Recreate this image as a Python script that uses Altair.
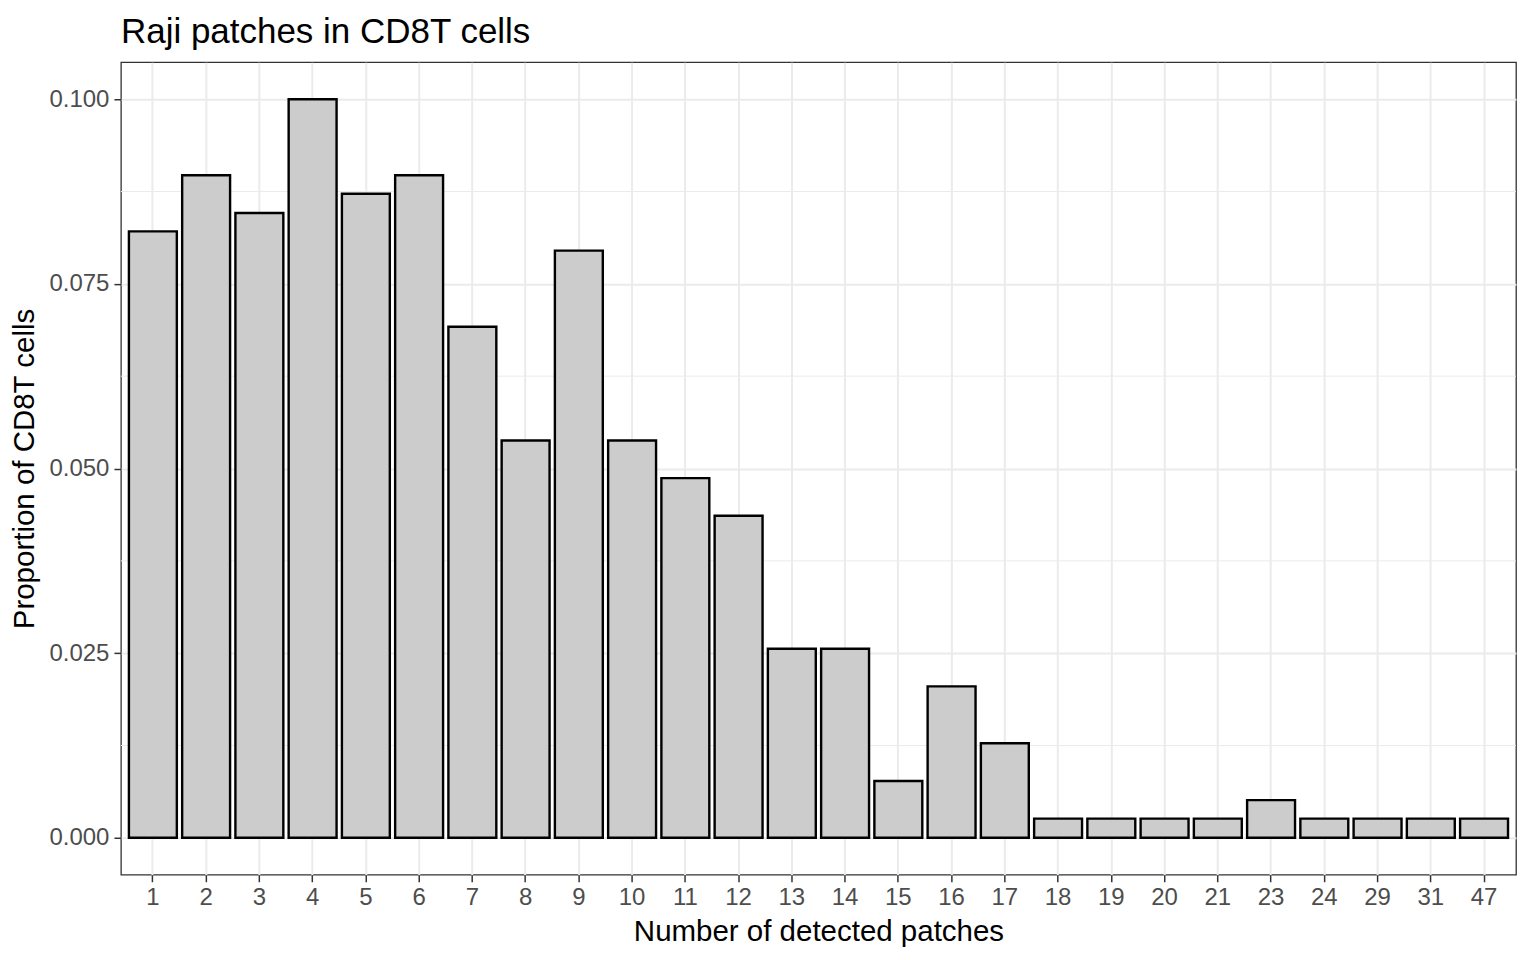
import altair as alt
import pandas as pd

categories = ["1", "2", "3", "4", "5", "6", "7", "8", "9", "10", "11", "12", "13",
              "14", "15", "16", "17", "18", "19", "20", "21", "23", "24", "29", "31", "47"]
proportions = [0.0821, 0.0897, 0.0846, 0.1000, 0.0872, 0.0897, 0.0692, 0.0538, 0.0795,
               0.0538, 0.0487, 0.0436, 0.0256, 0.0256, 0.0077, 0.0205, 0.0128, 0.0026,
               0.0026, 0.0026, 0.0026, 0.0051, 0.0026, 0.0026, 0.0026, 0.0026]
major_ticks = [0.0, 0.025, 0.05, 0.075, 0.1]
minor_grid = [0.0125, 0.0375, 0.0625, 0.0875]

df = pd.DataFrame({"patches": categories, "prop": proportions})
minor_df = pd.DataFrame({"v": minor_grid})

FONT = "Liberation Sans"

yscale = alt.Scale(domain=[-0.005, 0.105], nice=False, zero=False)

minor = alt.Chart(minor_df).mark_rule(color="#ebebeb", strokeWidth=1).encode(
    y=alt.Y("v:Q", scale=yscale)
)

bars = alt.Chart(df).mark_bar(fill="#cccccc", stroke="black", strokeWidth=2.4).encode(
    x=alt.X("patches:N", sort=categories,
            scale=alt.Scale(paddingInner=0.1, paddingOuter=0.15),
            axis=alt.Axis(title="Number of detected patches", labelAngle=0, grid=True,
                          bandPosition=0.5, titlePadding=8, labelPadding=4)),
    y=alt.Y("prop:Q", scale=yscale,
            axis=alt.Axis(title="Proportion of CD8T cells", values=major_ticks, format=".3f",
                          grid=True, titlePadding=9, labelPadding=5)),
)

chart = alt.layer(minor, bars).properties(
    width=1396, height=813,
    title=alt.TitleParams("Raji patches in CD8T cells", anchor="start", frame="group",
                          font=FONT, fontSize=35, fontWeight="normal", color="black", offset=12),
    padding={"left": 1, "top": 7, "right": 11, "bottom": 2},
).configure_view(
    stroke="#333333", strokeWidth=1.3
).configure_axis(
    labelFont=FONT, labelFontSize=24, labelColor="#4d4d4d",
    titleFont=FONT, titleFontSize=29.5, titleFontWeight="normal", titleColor="black",
    gridColor="#ebebeb", gridWidth=2, domain=False,
    tickColor="#333333", tickWidth=1.5, tickSize=7,
)

chart.save("out.html", embed_options={"renderer": "svg", "actions": False})
